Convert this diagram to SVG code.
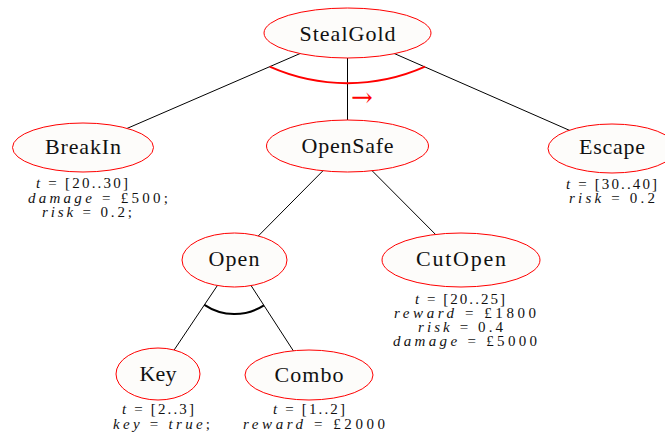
<svg xmlns="http://www.w3.org/2000/svg" width="665" height="439" viewBox="0 0 665 439">
  <style>
    .node ellipse { fill: #fdfcfa; stroke: #ff0000; stroke-width: 1; }
    .label { font-family: "Liberation Serif", "Times New Roman", serif; font-size: 22px; fill: #111; text-anchor: middle; }
    .note { font-family: "Liberation Serif", "Times New Roman", serif; font-size: 15px; fill: #111; }
    .note .v { font-style: italic; }
    .edge { stroke: #000; stroke-width: 1; fill: none; }
    .and { stroke: #000; stroke-width: 2; fill: none; }
    .sand { stroke: #ff0000; stroke-width: 2; fill: none; }
  </style>
  <rect width="665" height="439" fill="#ffffff"/>

  <!-- connectors: drawn centre to centre, the node fills cover the inner parts -->
  <g id="connectors">
    <line class="edge" x1="347.5" y1="33" x2="83" y2="147.5"/>
    <line class="edge" x1="347.5" y1="33" x2="347.5" y2="146"/>
    <line class="edge" x1="347.5" y1="33" x2="612" y2="149"/>
    <line class="edge" x1="347.5" y1="146" x2="234.5" y2="260"/>
    <line class="edge" x1="347.5" y1="146" x2="461" y2="260"/>
    <line class="edge" x1="234.5" y1="260" x2="158" y2="374"/>
    <line class="edge" x1="234.5" y1="260" x2="309" y2="375"/>
    <!-- sequential AND refinement of StealGold -->
    <path class="sand" d="M269.7,66.7 A191,191 0 0 0 425,66.7"/>
    <text x="351" y="105.5" font-family="'DejaVu Serif', 'Liberation Serif', serif" font-size="26" fill="#ff0000" textLength="23">→</text>
    <!-- AND refinement of Open -->
    <path class="and" d="M204.4,304.8 A54,54 0 0 0 263.9,305.3"/>
  </g>

  <g id="StealGold" class="node">
    <ellipse cx="347.5" cy="33" rx="83.5" ry="25"/>
    <text class="label" x="347.5" y="40.5" textLength="96">StealGold</text>
  </g>

  <g id="BreakIn" class="node">
    <ellipse cx="83" cy="147.5" rx="70.5" ry="24.5"/>
    <text class="label" x="83" y="154" textLength="76">BreakIn</text>
    <text class="note" x="36" y="188" textLength="92"><tspan class="v">t</tspan> = [20..30]</text>
    <text class="note" x="28" y="202.5" textLength="140"><tspan class="v">damage</tspan> = £500;</text>
    <text class="note" x="42" y="217" textLength="90"><tspan class="v">risk</tspan> = 0.2;</text>
  </g>

  <g id="OpenSafe" class="node">
    <ellipse cx="347.5" cy="146" rx="81" ry="26"/>
    <text class="label" x="347.5" y="152.5" textLength="92">OpenSafe</text>
  </g>

  <g id="Escape" class="node">
    <ellipse cx="612" cy="148.5" rx="64" ry="24.5"/>
    <text class="label" x="612" y="154" textLength="66">Escape</text>
    <text class="note" x="566" y="188.5" textLength="91"><tspan class="v">t</tspan> = [30..40]</text>
    <text class="note" x="569" y="203" textLength="86"><tspan class="v">risk</tspan> = 0.2</text>
  </g>

  <g id="Open" class="node">
    <ellipse cx="234.5" cy="260" rx="52.5" ry="27"/>
    <text class="label" x="234" y="266" textLength="51">Open</text>
  </g>

  <g id="CutOpen" class="node">
    <ellipse cx="461" cy="260" rx="79" ry="27"/>
    <text class="label" x="461" y="266" textLength="90">CutOpen</text>
    <text class="note" x="415" y="303.5" textLength="90"><tspan class="v">t</tspan> = [20..25]</text>
    <text class="note" x="394" y="318" textLength="142"><tspan class="v">reward</tspan> = £1800</text>
    <text class="note" x="418" y="332" textLength="85"><tspan class="v">risk</tspan> = 0.4</text>
    <text class="note" x="393" y="346" textLength="144"><tspan class="v">damage</tspan> = £5000</text>
  </g>

  <g id="Key" class="node">
    <ellipse cx="158" cy="374" rx="42" ry="26"/>
    <text class="label" x="158" y="380.5" textLength="37">Key</text>
    <text class="note" x="122" y="414" textLength="72"><tspan class="v">t</tspan> = [2..3]</text>
    <text class="note" x="113" y="428.5" textLength="97"><tspan class="v">key</tspan> = <tspan class="v">true</tspan>;</text>
  </g>

  <g id="Combo" class="node">
    <ellipse cx="309" cy="375" rx="64" ry="25"/>
    <text class="label" x="309" y="381.5" textLength="69">Combo</text>
    <text class="note" x="273" y="414" textLength="72"><tspan class="v">t</tspan> = [1..2]</text>
    <text class="note" x="243" y="428.5" textLength="142"><tspan class="v">reward</tspan> = £2000</text>
  </g>
</svg>
